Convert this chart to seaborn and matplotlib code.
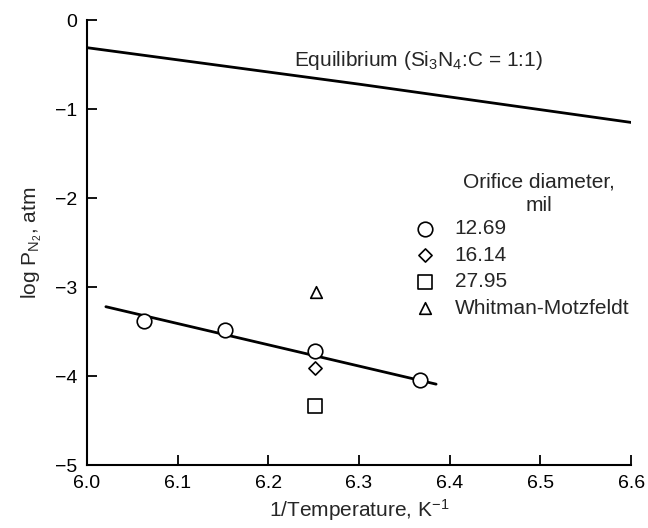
import numpy as np
import pandas as pd
import matplotlib
matplotlib.use("Agg")
import matplotlib.pyplot as plt
import seaborn as sns

# Data
equil_x = [6.0, 6.3, 6.6]
equil_y = [-0.31, -0.72, -1.15]

fit_x = [6.021, 6.385]
fit_y = [-3.22, -4.09]

circle_x = [6.063, 6.152, 6.251, 6.367]
circle_y = [-3.38, -3.48, -3.72, -4.04]

diamond_x = [6.251]
diamond_y = [-3.91]

square_x = [6.251]
square_y = [-4.34]

triangle_x = [6.253]
triangle_y = [-3.05]

legend_labels = ["12.69", "16.14", "27.95", "Whitman-Motzfeldt"]

x_ticks = [6.0, 6.1, 6.2, 6.3, 6.4, 6.5, 6.6]
y_ticks = [0, -1, -2, -3, -4, -5]

sns.set_style("ticks")
plt.rcParams["font.family"] = ["Liberation Sans", "DejaVu Sans"]
plt.rcParams["mathtext.default"] = "regular"

fig = plt.figure(figsize=(6.48, 5.28), dpi=100)
ax = fig.add_axes([0.134, 0.119, 0.840, 0.843])

sns.lineplot(x=equil_x, y=equil_y, ax=ax, color="black", linewidth=2.0, legend=False)
sns.lineplot(x=fit_x, y=fit_y, ax=ax, color="black", linewidth=2.0, legend=False)

mk = dict(facecolor="white", edgecolor="black", linewidth=1.2, zorder=5, ax=ax)
sns.scatterplot(x=circle_x, y=circle_y, marker="o", s=110, label=legend_labels[0], **mk)
sns.scatterplot(x=diamond_x, y=diamond_y, marker="D", s=45, label=legend_labels[1], **mk)
sns.scatterplot(x=square_x, y=square_y, marker="s", s=100, label=legend_labels[2], **mk)
sns.scatterplot(x=triangle_x, y=triangle_y, marker="^", s=70, label=legend_labels[3], **mk)

ax.set_xlim(6.0, 6.6)
ax.set_ylim(-5, 0)
ax.set_xticks(x_ticks)
ax.set_xticklabels([f"{t:.1f}" for t in x_ticks])
ax.set_yticks(y_ticks)
ax.set_yticklabels(["0" if t == 0 else f"\u2212{abs(t)}" for t in y_ticks])
ax.tick_params(direction="in", length=7, width=1.3, labelsize=14, colors="black", pad=7)
for side in ["left", "bottom"]:
    ax.spines[side].set_linewidth(1.5)
    ax.spines[side].set_color("black")
sns.despine(ax=ax)

ax.set_xlabel("1/Temperature, K$^{-1}$", fontsize=15, labelpad=4)
ax.set_ylabel("log P$_{N_2}$, atm", fontsize=15, labelpad=8)

ax.text(6.228, -0.45, "Equilibrium (Si$_3$N$_4$:C = 1:1)", fontsize=15, va="center")
ax.text(6.498, -1.95, "Orifice diameter,\nmil", fontsize=15, ha="center",
        va="center", multialignment="center", linespacing=1.35)

leg = ax.legend(frameon=False, fontsize=15, loc="upper left",
                bbox_to_anchor=(0.603, 0.553), handletextpad=0.9,
                labelspacing=0.36, borderaxespad=0, borderpad=0,
                handlelength=1.0)

fig.savefig("out.png", dpi=100)
